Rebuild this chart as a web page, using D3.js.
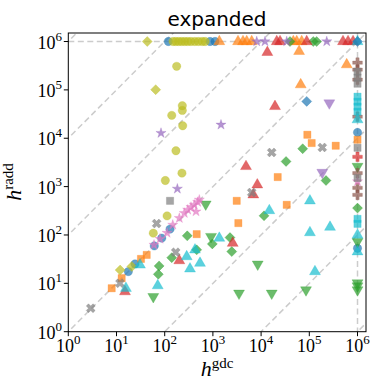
<!DOCTYPE html>
<html><head><meta charset="utf-8">
<script src="https://cdn.jsdelivr.net/npm/d3@7"></script>
<style>body{margin:0;background:#fff}</style>
</head><body>
<svg id="c" width="380" height="392"></svg>
<script>
// ---- data (x = h^gdc, y = h^radd) ----
const xTicks = [1, 10, 100, 1000, 1e4, 1e5, 1e6];
const yTicks = [1, 10, 100, 1000, 1e4, 1e5, 1e6];
const refExponents = [-6, -4, -2, 0, 2, 4, 6];

const blueCircle = [[119,1e6],[872,1e6],[1107,1e6],[17.6,17.5],[24.2,25.2],[60.8,59.5],[86.7,85.9],[129,132],[1e6,13200],[1e6,53]];
const orangeSquare = [[7.95,7.92],[12.8,12.8],[32.2,32],[42.3,38.7],[461,104],[3120,508],[3370,176],[22100,1574],[34000,420],[91000,11800],[112000,7960],[353000,7000],[1e6,9310]];
const orangeTriangle = [[1358,1e6],[3320,1e6],[4210,1e6],[5030,1e6],[6380,1e6],[46600,1e6],[54800,1e6],[69500,1e6],[61400,627000],[597000,332000],[66300,128000]];
const greenDiamond = [[39800,1e6],[121000,1e6],[142000,1e6],[76.5,22.9],[73.6,15.4],[140,34],[294,95.8],[461,49.2],[972,65.4],[2260,88.3],[2460,45.3],[11500,249],[32900,3310],[72900,6070],[222000,1337],[1e6,359]];
const greenTriDown = [[58,5.3],[709,434],[914,92.7],[3480,6.24],[8500,24.9],[16600,6.24],[85400,7.3],[1e6,2610],[1e6,73],[1e6,10.2],[1e6,8.8],[1e6,7.3]];
const redTriangle = [[21100,1e6],[24700,1e6],[88300,1e6],[500000,1e6],[636000,1e6],[808000,1e6],[13460,597000],[19400,45500],[4860,2610],[8340,1089],[6890,677],[2576,67.6],[201,29.5],[15,6.73]];
const purpleStar = [[8110,1e6],[12050,1e6],[34000,1e6],[230000,1e6],[1472,19000],[83.8,12800],[183,900]];
const purpleTriDown = [[260000,53500],[186000,1960]];
const brownPlus = [[1e6,365000],[1e6,262000],[1e6,163000],[1e6,27900],[1e6,1900],[1e6,944],[1e6,677]];
const pinkStar = [[60,62.4],[79.9,83],[112,110],[147,162],[201,223],[255,283],[300,331],[351,377],[411,420],[484,478],[522,533],[446,305],[1e6,1275]];
const grayX = [[2.92,3.05],[11.8,10],[68,172],[169,44],[6380,755],[16600,5080],[186000,6450]];
const graySquare = [[129,508],[1e6,238000],[1e6,178000],[1e6,134000],[1e6,6350],[1e6,1500]];
const oliveCircle = [[149,1e6],[170,1e6],[195,1e6],[225,1e6],[260,1e6],[300,1e6],[350,1e6],[420,1e6],[500,1e6],[600,1e6],[690,1e6],[177,307000],[232,47100],[232,37600],[140,29700],[236,18100],[171,5510],[228,1900],[103,1337],[112,248],[58,109]];
const oliveDiamond = [[43.5,1e6],[65,101000],[11.9,18.8],[20.7,22.2]];
const cyanTriangle = [[15.7,7.92],[30.7,24],[71.6,8.96],[286,35.7],[335,19.9],[540,26.1],[425,49.2],[1358,85.9],[14800,320],[103000,508],[103000,112],[269000,145],[131000,17.5],[1e6,1e6],[1e6,24200],[1e6,100],[1e6,45]];
const cyanSquare = [[1e6,72300],[1e6,56900],[1e6,44900],[1e6,35300],[1e6,215],[1e6,170]];
const blueDiamond = [[88300,57800],[1e6,1e6]];
const redPlus = [[1e6,4140]];

const series = [
  {data: blueCircle, color: "#1f77b4", marker: "o"},
  {data: orangeSquare, color: "#ff7f0e", marker: "s"},
  {data: orangeTriangle, color: "#ff7f0e", marker: "^"},
  {data: greenDiamond, color: "#2ca02c", marker: "D"},
  {data: greenTriDown, color: "#2ca02c", marker: "v"},
  {data: redTriangle, color: "#d62728", marker: "^"},
  {data: redPlus, color: "#d62728", marker: "P"},
  {data: purpleStar, color: "#9467bd", marker: "*"},
  {data: purpleTriDown, color: "#9467bd", marker: "v"},
  {data: brownPlus, color: "#8c564b", marker: "P"},
  {data: pinkStar, color: "#e377c2", marker: "*"},
  {data: grayX, color: "#7f7f7f", marker: "X"},
  {data: graySquare, color: "#7f7f7f", marker: "s"},
  {data: oliveCircle, color: "#bcbd22", marker: "o"},
  {data: oliveDiamond, color: "#bcbd22", marker: "D"},
  {data: cyanTriangle, color: "#17becf", marker: "^"},
  {data: cyanSquare, color: "#17becf", marker: "s"},
  {data: blueDiamond, color: "#1f77b4", marker: "D"}
];

// ---- layout ----
const svg = d3.select("#c");
const L = 68.3, R = 366, T = 33, B = 331.7;
const x = d3.scaleLog().domain([1, 1.5e6]).range([L, R]);
const y = d3.scaleLog().domain([1, 1.5e6]).range([B, T]);

svg.append("defs").append("clipPath").attr("id","clip")
  .append("rect").attr("x",L).attr("y",T).attr("width",R-L).attr("height",B-T);

const lines = svg.append("g").attr("clip-path","url(#clip)")
  .attr("stroke","#cccccc").attr("stroke-width",1.5).attr("stroke-dasharray","6,3.5").attr("fill","none");
refExponents.forEach(k => {
  const f = Math.pow(10,k);
  const x0 = 1e-3, x1 = 1e9;
  lines.append("line").attr("x1",x(x0)).attr("y1",y(x0*f)).attr("x2",x(x1)).attr("y2",y(x1*f));
});
lines.append("line").attr("x1",L).attr("x2",R).attr("y1",y(1e6)).attr("y2",y(1e6));
lines.append("line").attr("x1",x(1e6)).attr("x2",x(1e6)).attr("y1",T).attr("y2",B);

// ---- markers ----
const shapes = {
  o: {type: d3.symbolCircle, size: 55, rot: 0},
  s: {type: d3.symbolSquare, size: 52, rot: 0},
  "^": {type: d3.symbolTriangle, size: 52, rot: 0},
  v: {type: d3.symbolTriangle, size: 52, rot: 180},
  D: {type: d3.symbolSquare, size: 50, rot: 45},
  "*": {type: d3.symbolStar, size: 32, rot: 0},
  P: {type: d3.symbolCross, size: 52, rot: 0},
  X: {type: d3.symbolCross, size: 50, rot: 45}
};
const pts = svg.append("g");
series.forEach(s => {
  const sh = shapes[s.marker];
  const path = d3.symbol().type(sh.type).size(sh.size)();
  pts.append("g").selectAll("path").data(s.data).join("path")
    .attr("d", path)
    .attr("transform", d => `translate(${x(d[0])},${y(d[1])}) rotate(${sh.rot})`)
    .attr("fill", s.color).attr("fill-opacity", 0.7)
    .attr("stroke", s.color).attr("stroke-opacity", 0.35).attr("stroke-width", 0.8);
});

// ---- axes ----
const ax = svg.append("g");
ax.append("rect").attr("x",L).attr("y",T).attr("width",R-L).attr("height",B-T)
  .attr("fill","none").attr("stroke","#000").attr("stroke-width",1);
const font = "'Liberation Serif', 'DejaVu Serif', serif";
xTicks.forEach(v => {
  const px = x(v);
  ax.append("line").attr("x1",px).attr("x2",px).attr("y1",B).attr("y2",B+4.5).attr("stroke","#000");
  const t = ax.append("text").attr("x",px).attr("y",B+20.5).attr("text-anchor","middle")
    .attr("font-family",font).attr("font-size",18).text("10");
  t.append("tspan").attr("dy",-8).attr("font-size",13).text(Math.round(Math.log10(v)));
});
yTicks.forEach(v => {
  const py = y(v);
  ax.append("line").attr("x1",L-4.5).attr("x2",L).attr("y1",py).attr("y2",py).attr("stroke","#000");
  const t = ax.append("text").attr("x",62).attr("y",py+7).attr("text-anchor","end")
    .attr("font-family",font).attr("font-size",18).text("10");
  t.append("tspan").attr("dy",-8).attr("font-size",13).text(Math.round(Math.log10(v)));
});

// x label
const xl = svg.append("text").attr("x",217).attr("y",376).attr("text-anchor","middle")
  .attr("font-family",font).attr("font-size",22);
xl.append("tspan").attr("font-style","italic").text("h");
xl.append("tspan").attr("dy",-8).attr("font-size",15).text("gdc");
// y label
const yl = svg.append("text").attr("transform","translate(21,182) rotate(-90)").attr("text-anchor","middle")
  .attr("font-family",font).attr("font-size",22);
yl.append("tspan").attr("font-style","italic").text("h");
yl.append("tspan").attr("dy",-8).attr("font-size",15).text("radd");

// title
svg.append("text").attr("x",217).attr("y",26).attr("text-anchor","middle")
  .attr("font-family","'DejaVu Sans', sans-serif").attr("font-size",20).text("expanded");
</script>
</body></html>
